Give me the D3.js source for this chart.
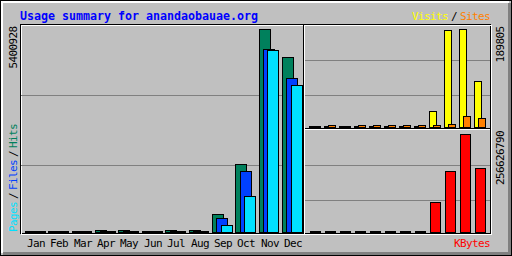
<!DOCTYPE html>
<html><head><meta charset="utf-8">
<script src="https://cdn.jsdelivr.net/npm/d3@7"></script>
<style>
html,body{margin:0;padding:0;background:#fff}
svg{display:block}
text{font-family:"DejaVu Sans Mono",monospace}
</style></head>
<body>
<script>
// ---- data ----
const title = "Usage summary for anandaobauae.org";
const months = ["Jan","Feb","Mar","Apr","May","Jun","Jul","Aug","Sep","Oct","Nov","Dec"];
const hits   = [20000, 20000, 20000, 61000, 58000, 20000, 55000, 56000, 471000, 1809000, 5400928, 4648000];
const files  = [20000, 20000, 20000, 20000, 20000, 20000, 20000, 20000, 364000, 1615000, 4861000, 4089000];
const pages  = [18000, 18000, 18000, 18000, 18000, 18000, 18000, 18000, 178000, 949000, 4850000, 3903000];
const visits = [1200, 1200, 1200, 1200, 1200, 1200, 1200, 1200, 31000, 187300, 189805, 89100];
const sites  = [1000, 3500, 1000, 3500, 3600, 3500, 3500, 3500, 3900, 5800, 20700, 17400];
const kbytes = [1500000, 1500000, 1500000, 1500000, 1500000, 1500000, 1500000, 1500000, 77800000, 158900000, 256626790, 166800000];
const maxLabelMain = "5400928";
const maxLabelVS = "189805";
const maxLabelK = "256626790";
const legendLeft = [["Pages","#00e0ff"],["/","#000"],["Files","#0040ff"],["/","#000"],["Hits","#00805c"]];
const legendTop = [["Visits","#ffff00"],["/","#000"],["Sites","#ff8000"]];
const legendBottom = "KBytes";

// ---- drawing ----
const W = 512, H = 256;
const grey = "#c0c0c0", dk = "#808080";
const svg = d3.select("body").append("svg").attr("width", W).attr("height", H)
  .attr("shape-rendering", "crispEdges");

function px(x, y, w, h, c){ svg.append("rect").attr("x",x).attr("y",y).attr("width",w).attr("height",h).attr("fill",c); }

px(0,0,W,H,grey);
// outer border
px(0,0,W,1,"#000"); px(0,H-1,W,1,"#000"); px(0,0,1,H,"#000"); px(W-1,0,1,H,"#000");
// bevel
px(1,1,508,2,"#fff"); px(1,1,2,252,"#fff");
px(3,252,508,3,dk); px(508,3,3,252,dk);

// frame
const fx0=20, fy0=24, fx1=490, fy1=233;
px(fx0,fy0,fx1-fx0+1,1,"#000"); px(fx0,fy1,fx1-fx0+1,1,"#000");
px(fx0,fy0,1,fy1-fy0+1,"#000"); px(fx1,fy0,1,fy1-fy0+1,"#000");
px(fx0+1,fy0+1,fx1-fx0+1,1,"#fff"); px(fx0+1,fy1+1,fx1-fx0+1,1,"#fff");
px(fx0+1,fy0+1,1,fy1-fy0+1,"#fff"); px(fx1+1,fy0+1,1,fy1-fy0+1,"#fff");

// scales
const xMain = d3.scaleBand().domain(months).range([25, 25 + 12*23.36]).paddingInner(0).paddingOuter(0);
const xRight = d3.scaleBand().domain(months).range([309.3, 309.3 + 12*15]).paddingInner(0).paddingOuter(0);
const yMain = d3.scaleLinear().domain([0, d3.max(hits.concat(files, pages))]).range([232, 29]);
const yVS = d3.scaleLinear().domain([0, d3.max(visits.concat(sites))]).range([127, 29]);
const yK = d3.scaleLinear().domain([0, d3.max(kbytes)]).range([232, 134]);

// grid lines
[yMain.invert(95), yMain.invert(165)].forEach(v => px(21, Math.round(yMain(v)), 282, 1, dk));
[yVS.invert(60), yVS.invert(95)].forEach(v => px(305, Math.round(yVS(v)), 185, 1, dk));
[yK.invert(165), yK.invert(200)].forEach(v => px(305, Math.round(yK(v)), 185, 1, dk));

// section dividers
px(303, 25, 1, 209, "#000"); px(304, 25, 1, 209, "#fff");
px(305, 128, 185, 1, "#000"); px(305, 129, 185, 1, "#fff");

function bars(vals, xs, off, w, ys, base, color){
  svg.append("g").selectAll("rect").data(vals).join("rect")
    .attr("x", (d,i) => Math.round(xs(months[i]) + off) + 0.5)
    .attr("width", w)
    .attr("y", d => Math.min(base-1, Math.round(ys(d))) + 0.5)
    .attr("height", d => base - Math.min(base-1, Math.round(ys(d))))
    .attr("fill", color).attr("stroke", "#000").attr("stroke-width", 1)
    .attr("shape-rendering", "auto");
}
bars(hits, xMain, 0, 11, yMain, 232, "#00805c");
bars(files, xMain, 4.5, 11, yMain, 232, "#0040ff");
bars(pages, xMain, 8.7, 11, yMain, 232, "#00e0ff");
bars(visits, xRight, 0, 7, yVS, 127, "#ffff00");
bars(sites, xRight, 3.7, 7, yVS, 127, "#ff8000");
bars(kbytes, xRight, 0.7, 10, yK, 232, "#ff0000");

// texts
const small = {size: 11, ls: -0.62};
function txt(s, x, y, color, opts={}){
  const t = svg.append("text").text(s).attr("x", x).attr("y", y).attr("fill", color)
    .attr("font-size", opts.size || 11).attr("letter-spacing", opts.ls != null ? opts.ls : -0.62)
    .attr("shape-rendering","auto");
  if (opts.bold) t.attr("font-weight", "bold");
  if (opts.anchor) t.attr("text-anchor", opts.anchor);
  if (opts.rot) t.attr("transform", `rotate(-90 ${x} ${y})`);
  return t;
}
txt(title, 20, 19.5, "#0000ff", {size: 11.63, ls: 0, bold: true});

// month labels
months.forEach(m => txt(m, Math.round(xMain(m)) + 2, 247, "#000"));

// top right legend
let tx = [412, 451, 460];
legendTop.forEach((d,i) => txt(d[0], tx[i], 20, d[1]));
// bottom right legend
txt(legendBottom, 454, 247, "#ff0000");

// left legend (rotated)
let ly = [232, 199, 190, 157, 148];
legendLeft.forEach((d,i) => txt(d[0], 17, ly[i], d[1], {rot: true}));

// max labels (rotated)
txt(maxLabelMain, 17, 26.5, "#000", {rot: true, anchor: "end"});
txt(maxLabelVS, 504, 26.5, "#000", {rot: true, anchor: "end"});
txt(maxLabelK, 504, 131, "#000", {rot: true, anchor: "end"});
</script>
</body></html>
